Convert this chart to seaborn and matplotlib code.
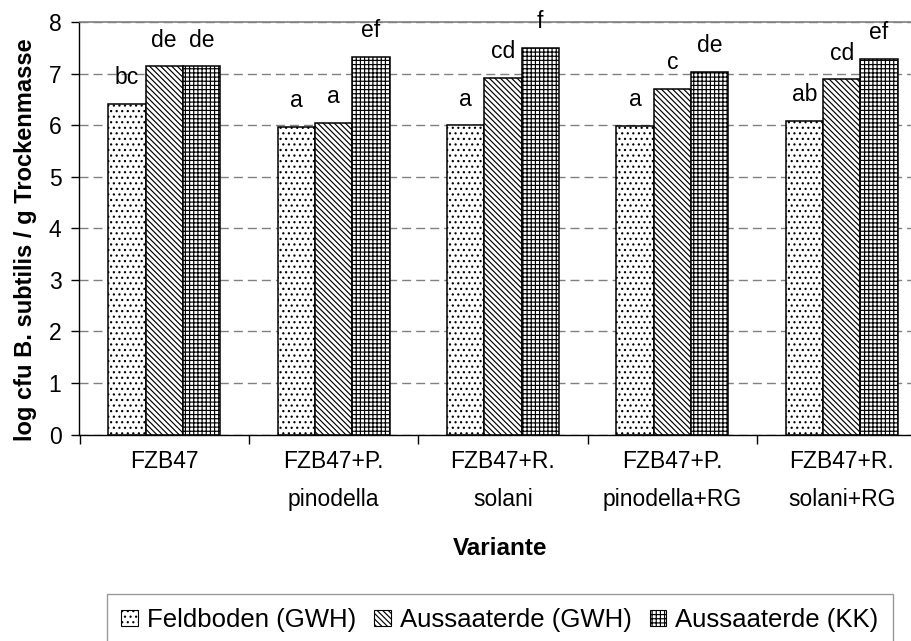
import matplotlib
matplotlib.use("Agg")
import matplotlib.pyplot as plt
from matplotlib.patches import Patch
import seaborn as sns
import pandas as pd

# Data
categories = [
    "FZB47",
    "FZB47+P.\npinodella",
    "FZB47+R.\nsolani",
    "FZB47+P.\npinodella+RG",
    "FZB47+R.\nsolani+RG",
]
series = ["Feldboden (GWH)", "Aussaaterde (GWH)", "Aussaaterde (KK)"]
feldboden_gwh = [6.41, 5.97, 6.00, 5.99, 6.08]
aussaaterde_gwh = [7.14, 6.04, 6.92, 6.71, 6.89]
aussaaterde_kk = [7.14, 7.33, 7.50, 7.04, 7.29]
letters_feldboden = ["bc", "a", "a", "a", "ab"]
letters_gwh = ["de", "a", "cd", "c", "cd"]
letters_kk = ["de", "ef", "f", "de", "ef"]
y_ticks = [0, 1, 2, 3, 4, 5, 6, 7, 8]

plt.rcParams["font.family"] = ["Liberation Sans", "DejaVu Sans"]
plt.rcParams["hatch.linewidth"] = 0.85

rows = []
for name, values in zip(series, [feldboden_gwh, aussaaterde_gwh, aussaaterde_kk]):
    for cat, v in zip(categories, values):
        rows.append({"Variante": cat, "Boden": name, "Wert": v})
df = pd.DataFrame(rows)

fig = plt.figure(figsize=(9.12, 6.41), dpi=100)
ax = fig.add_axes([79.5 / 912, 1 - 434.5 / 641, 847 / 912, 412.5 / 641])

sns.barplot(
    data=df,
    x="Variante",
    y="Wert",
    hue="Boden",
    order=categories,
    hue_order=series,
    palette=["white"] * 3,
    saturation=1,
    edgecolor="black",
    linewidth=1.1,
    width=0.66,
    errorbar=None,
    legend=False,
    ax=ax,
)

# Excel-like fill patterns
hatches = ["...", "\\\\\\\\\\\\", "++++"]
for container, hatch in zip(ax.containers, hatches):
    for bar in container:
        bar.set_hatch(hatch)

# significance letters
for container, labs in zip(ax.containers, [letters_feldboden, letters_gwh, letters_kk]):
    ax.bar_label(container, labels=labs, padding=10.5, fontsize=16.5)

ax.set_ylim(0, 8)
ax.set_xlim(-0.5, 4.5)
ax.set_yticks(y_ticks)
ax.yaxis.grid(True, linestyle=(0, (6.5, 3.6)), color="#808080", linewidth=1)
ax.set_axisbelow(True)

for side in ["left", "bottom"]:
    ax.spines[side].set_color("black")
    ax.spines[side].set_linewidth(1)
ax.spines["top"].set_color("#808080")
ax.spines["top"].set_linewidth(1.2)
ax.spines["right"].set_visible(False)

ax.set_xticks(range(len(categories)))
ax.set_xticklabels(categories, fontsize=16.5, linespacing=1.85)
ax.set_xticks([i - 0.5 for i in range(len(categories) + 1)], minor=True)
ax.tick_params(axis="x", which="major", length=0, pad=11)
ax.tick_params(axis="x", which="minor", length=6.5, width=1, color="black")
ax.tick_params(axis="y", length=6, width=1, pad=7, labelsize=16.5)

ax.set_xlabel("Variante", fontsize=17.5, fontweight="bold")
ax.xaxis.set_label_coords(0.497, -0.248)
ax.set_ylabel("log cfu B. subtilis / g Trockenmasse", fontsize=17, fontweight="bold")
ax.yaxis.set_label_coords(-0.05, 0.472)

handles = [Patch(facecolor="white", edgecolor="black", linewidth=0.8, hatch=h) for h in hatches]
fig.legend(
    handles,
    series,
    loc="upper center",
    bbox_to_anchor=(500 / 912, 1 - 594 / 641),
    ncol=3,
    fontsize=18.5,
    frameon=True,
    fancybox=False,
    edgecolor="#808080",
    handlelength=0.65,
    handleheight=0.6,
    handletextpad=0.35,
    columnspacing=0.7,
    borderpad=0.55,
    borderaxespad=0,
)

fig.savefig("out.png", dpi=100)
